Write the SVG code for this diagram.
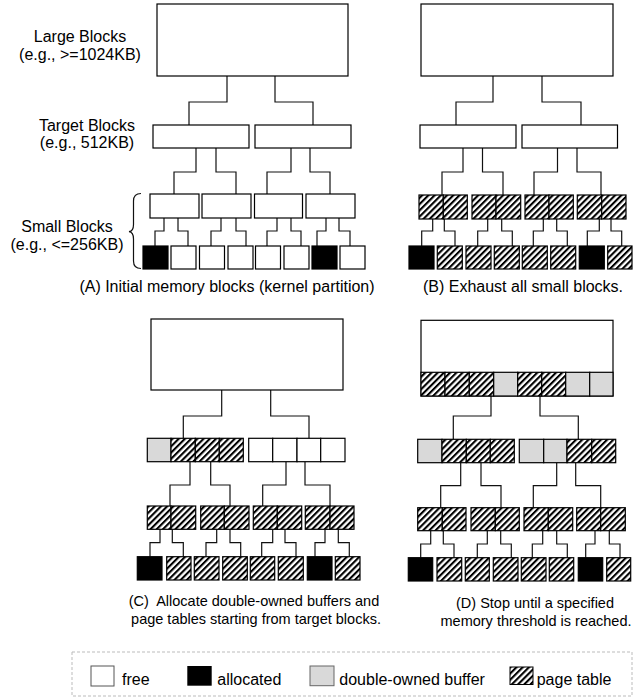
<svg xmlns="http://www.w3.org/2000/svg" width="644" height="698" viewBox="0 0 644 698">
<defs>
<pattern id="hatch" width="4.4" height="4.4" patternUnits="userSpaceOnUse" patternTransform="rotate(45)">
<rect width="4.4" height="4.4" fill="#fff"/>
<rect width="2.1" height="4.4" fill="#000"/>
</pattern>
<style>
.b{fill:#fff;stroke:#000;stroke-width:1.2}
.k{fill:#000;stroke:#000;stroke-width:1.2}
.g{fill:#d9d9d9;stroke:#000;stroke-width:1.2}
.h{fill:url(#hatch);stroke:#000;stroke-width:1.2}
.c{fill:none;stroke:#111;stroke-width:1.2}
.t{font-family:"Liberation Sans",Arial,sans-serif;font-size:16px;fill:#000}
.s{font-size:14.5px}
</style>
</defs>

<!-- labels -->
<g id="labels">
<text class="t" x="80" y="42" text-anchor="middle">Large Blocks</text>
<text class="t" x="80" y="60" text-anchor="middle">(e.g., &gt;=1024KB)</text>
<text class="t" x="87" y="131" text-anchor="middle">Target Blocks</text>
<text class="t" x="87" y="148" text-anchor="middle">(e.g., 512KB)</text>
<text class="t" x="67" y="232" text-anchor="middle">Small Blocks</text>
<text class="t" x="67" y="250" text-anchor="middle">(e.g., &lt;=256KB)</text>
<path id="brace" class="c" stroke-width="1" d="M141,193.5 C135.5,193.5 133.5,196 133.5,201 V224.5 C133.5,229.5 131.5,231.5 129,231.7 C131.5,232 133.5,234 133.5,239 V261 C133.5,266 135.5,268.5 141,268.5"/>
<text class="t" x="227" y="292" text-anchor="middle">(A) Initial memory blocks (kernel partition)</text>
<text class="t" x="523" y="292" text-anchor="middle">(B) Exhaust all small blocks.</text>
<text class="t s" x="254" y="606" text-anchor="middle" xml:space="preserve">(C)  Allocate double-owned buffers and</text>
<text class="t s" x="256" y="624" text-anchor="middle">page tables starting from target blocks.</text>
<text class="t s" x="535" y="608" text-anchor="middle">(D) Stop until a specified</text>
<text class="t s" x="536" y="626" text-anchor="middle">memory threshold is reached.</text>
</g>

<!-- connectors -->
<g id="connectors">
<!-- A -->
<path class="c" d="M227,76V102H189V125M275,76V102H313V125"/>
<path class="c" d="M196,148V172H174V194M216,148V172H236V194M291,148V172H267V194M310,148V172H330V194"/>
<path class="c" d="M164,218V231H155V246M178,218V231H188V246M221,218V231H211V246M236,218V231H246V246M277,218V231H267V246M291,218V231H301V246M326,218V231H317V246M339,218V231H350V246"/>
<!-- B -->
<path class="c" d="M493,76V102H456V125M542,76V102H581V125"/>
<path class="c" d="M463,148V172H442V195M482.5,148V172H503V195M557.5,148V172H534V195M577,148V172H601V195"/>
<path class="c" d="M432.7,219V231H421.7V246M444.3,219V231H455V246M487.7,219V231H477.7V246M501.7,219V231H512.3V246M543.3,219V231H533.3V246M556.7,219V231H567.3V246M599.3,219V231H587.3V246M611,219V231H621.7V246"/>
<!-- C -->
<path class="c" d="M221.7,390V416H183.3V438.3M270.7,390V416H309V438.3"/>
<path class="c" d="M190,461.7V485H170V506M210.7,461.7V485H230V506M286,461.7V485H262.7V506M305,461.7V485H330V506"/>
<path class="c" d="M160,529.3V542.7H150V556.7M172.3,529.3V542.7H183.3V556.7M216.7,529.3V542.7H206V556.7M230,529.3V542.7H240.7V556.7M272.7,529.3V542.7H261.7V556.7M285,529.3V542.7H296V556.7M325,529.3V542.7H315V556.7M338.3,529.3V542.7H349.3V556.7"/>
<!-- D -->
<path class="c" d="M491,396V416H453.3V439.3M540,396V416H578.3V439.3"/>
<path class="c" d="M460.7,462.7V485.7H440.7V507.7M481,462.7V485.7H501V507.7M556.7,462.7V485.7H533.3V507.7M575.7,462.7V485.7H600.7V507.7"/>
<path class="c" d="M430.7,530.7V544H420.7V557.7M443.3,530.7V544H454V557.7M487.3,530.7V544H477.3V557.7M500.7,530.7V544H511.3V557.7M542.7,530.7V544H532.3V557.7M556.7,530.7V544H567.3V557.7M595,530.7V544H585.7V557.7M609.3,530.7V544H620V557.7"/>
</g>

<!-- Panel A -->
<g id="A-large"><rect class="b" x="157" y="4" width="191" height="72"/></g>
<g id="A-target-1"><rect class="b" x="153" y="125" width="96" height="23"/></g>
<g id="A-target-2"><rect class="b" x="255" y="125" width="96" height="23"/></g>
<g id="A-small-1"><rect class="b" x="150" y="194" width="49" height="24"/></g>
<g id="A-small-2"><rect class="b" x="202" y="194" width="49" height="24"/></g>
<g id="A-small-3"><rect class="b" x="254.5" y="194" width="48" height="24"/></g>
<g id="A-small-4"><rect class="b" x="306" y="194" width="49" height="24"/></g>
<g id="A-leaf-1"><rect class="k" x="143" y="246" width="25" height="23"/></g>
<g id="A-leaf-2"><rect class="b" x="171" y="246" width="25" height="23"/></g>
<g id="A-leaf-3"><rect class="b" x="199.5" y="246" width="25" height="23"/></g>
<g id="A-leaf-4"><rect class="b" x="228" y="246" width="25" height="23"/></g>
<g id="A-leaf-5"><rect class="b" x="255.5" y="246" width="25" height="23"/></g>
<g id="A-leaf-6"><rect class="b" x="284" y="246" width="25" height="23"/></g>
<g id="A-leaf-7"><rect class="k" x="312" y="246" width="25" height="23"/></g>
<g id="A-leaf-8"><rect class="b" x="340" y="246" width="25" height="23"/></g>

<!-- Panel B -->
<g id="B-large"><rect class="b" x="421" y="4" width="192" height="72"/></g>
<g id="B-target-1"><rect class="b" x="420" y="125" width="96" height="23"/></g>
<g id="B-target-2"><rect class="b" x="522" y="125" width="95.5" height="23"/></g>
<g id="B-small-1"><rect class="h" x="419" y="195" width="24.3" height="24"/><rect class="h" x="443.3" y="195" width="24" height="24"/></g>
<g id="B-small-2"><rect class="h" x="472" y="195" width="24" height="24"/><rect class="h" x="496" y="195" width="24.7" height="24"/></g>
<g id="B-small-3"><rect class="h" x="525" y="195" width="24" height="24"/><rect class="h" x="549" y="195" width="24.3" height="24"/></g>
<g id="B-small-4"><rect class="h" x="577.3" y="195" width="24.4" height="24"/><rect class="h" x="601.7" y="195" width="24.3" height="24"/></g>
<g id="B-leaf-1"><rect class="k" x="409" y="246" width="25" height="23"/></g>
<g id="B-leaf-2"><rect class="h" x="437.3" y="246" width="25" height="23"/></g>
<g id="B-leaf-3"><rect class="h" x="466" y="246" width="25" height="23"/></g>
<g id="B-leaf-4"><rect class="h" x="494.3" y="246" width="25" height="23"/></g>
<g id="B-leaf-5"><rect class="h" x="522.3" y="246" width="25" height="23"/></g>
<g id="B-leaf-6"><rect class="h" x="550.7" y="246" width="25" height="23"/></g>
<g id="B-leaf-7"><rect class="k" x="579.3" y="246" width="25" height="23"/></g>
<g id="B-leaf-8"><rect class="h" x="607.7" y="246" width="24.3" height="23"/></g>

<!-- Panel C -->
<g id="C-large"><rect class="b" x="151" y="319" width="192" height="71"/></g>
<g id="C-target-1">
<rect class="g" x="147.3" y="438.3" width="23.7" height="23.4"/>
<rect class="h" x="171" y="438.3" width="24.3" height="23.4"/>
<rect class="h" x="195.3" y="438.3" width="24" height="23.4"/>
<rect class="h" x="219.3" y="438.3" width="24" height="23.4"/>
</g>
<g id="C-target-2">
<rect class="b" x="248.7" y="438.3" width="24" height="23.4"/>
<rect class="b" x="272.7" y="438.3" width="24.3" height="23.4"/>
<rect class="b" x="297" y="438.3" width="23.7" height="23.4"/>
<rect class="b" x="320.7" y="438.3" width="24.3" height="23.4"/>
</g>
<g id="C-small-1"><rect class="h" x="147.3" y="506" width="23.7" height="23.3"/><rect class="h" x="171" y="506" width="24.7" height="23.3"/></g>
<g id="C-small-2"><rect class="h" x="200.7" y="506" width="23.6" height="23.3"/><rect class="h" x="224.3" y="506" width="24.7" height="23.3"/></g>
<g id="C-small-3"><rect class="h" x="253.3" y="506" width="24" height="23.3"/><rect class="h" x="277.3" y="506" width="24.4" height="23.3"/></g>
<g id="C-small-4"><rect class="h" x="305.3" y="506" width="24.7" height="23.3"/><rect class="h" x="330" y="506" width="24" height="23.3"/></g>
<g id="C-leaf-1"><rect class="k" x="137.3" y="556.7" width="24.7" height="23.3"/></g>
<g id="C-leaf-2"><rect class="h" x="166.7" y="556.7" width="24.3" height="23.3"/></g>
<g id="C-leaf-3"><rect class="h" x="194.3" y="556.7" width="24.7" height="23.3"/></g>
<g id="C-leaf-4"><rect class="h" x="222.7" y="556.7" width="24.6" height="23.3"/></g>
<g id="C-leaf-5"><rect class="h" x="250.3" y="556.7" width="24.4" height="23.3"/></g>
<g id="C-leaf-6"><rect class="h" x="278.3" y="556.7" width="25" height="23.3"/></g>
<g id="C-leaf-7"><rect class="k" x="307.3" y="556.7" width="24.7" height="23.3"/></g>
<g id="C-leaf-8"><rect class="h" x="335.3" y="556.7" width="24.7" height="23.3"/></g>

<!-- Panel D -->
<g id="D-large">
<rect class="b" x="421" y="320.3" width="192" height="75.7"/>
<rect class="h" x="421" y="372.3" width="24" height="23.7"/>
<rect class="h" x="445" y="372.3" width="24.3" height="23.7"/>
<rect class="h" x="469.3" y="372.3" width="24.4" height="23.7"/>
<rect class="g" x="493.7" y="372.3" width="24" height="23.7"/>
<rect class="h" x="517.7" y="372.3" width="24" height="23.7"/>
<rect class="h" x="541.7" y="372.3" width="24" height="23.7"/>
<rect class="g" x="565.7" y="372.3" width="24" height="23.7"/>
<rect class="g" x="589.7" y="372.3" width="23.3" height="23.7"/>
</g>
<g id="D-target-1">
<rect class="g" x="417.7" y="439.3" width="24.3" height="23.4"/>
<rect class="h" x="442" y="439.3" width="24.3" height="23.4"/>
<rect class="h" x="466.3" y="439.3" width="24" height="23.4"/>
<rect class="h" x="490.3" y="439.3" width="24" height="23.4"/>
</g>
<g id="D-target-2">
<rect class="g" x="519.3" y="439.3" width="24.4" height="23.4"/>
<rect class="g" x="543.7" y="439.3" width="23.3" height="23.4"/>
<rect class="h" x="567" y="439.3" width="24.7" height="23.4"/>
<rect class="h" x="591.7" y="439.3" width="24" height="23.4"/>
</g>
<g id="D-small-1"><rect class="h" x="417.7" y="507.7" width="24.6" height="23"/><rect class="h" x="442.3" y="507.7" width="23.7" height="23"/></g>
<g id="D-small-2"><rect class="h" x="471" y="507.7" width="24.3" height="23"/><rect class="h" x="495.3" y="507.7" width="24" height="23"/></g>
<g id="D-small-3"><rect class="h" x="524" y="507.7" width="24.3" height="23"/><rect class="h" x="548.3" y="507.7" width="24.4" height="23"/></g>
<g id="D-small-4"><rect class="h" x="576.7" y="507.7" width="24" height="23"/><rect class="h" x="600.7" y="507.7" width="24.6" height="23"/></g>
<g id="D-leaf-1"><rect class="k" x="408.3" y="557.7" width="24.4" height="23.3"/></g>
<g id="D-leaf-2"><rect class="h" x="437" y="557.7" width="24.7" height="23.3"/></g>
<g id="D-leaf-3"><rect class="h" x="465.3" y="557.7" width="24" height="23.3"/></g>
<g id="D-leaf-4"><rect class="h" x="493.3" y="557.7" width="24.7" height="23.3"/></g>
<g id="D-leaf-5"><rect class="h" x="521.3" y="557.7" width="24.7" height="23.3"/></g>
<g id="D-leaf-6"><rect class="h" x="549.3" y="557.7" width="24.4" height="23.3"/></g>
<g id="D-leaf-7"><rect class="k" x="578.3" y="557.7" width="24.4" height="23.3"/></g>
<g id="D-leaf-8"><rect class="h" x="606.7" y="557.7" width="24" height="23.3"/></g>

<!-- Legend -->
<g id="legend">
<rect x="72" y="652" width="560" height="44" fill="#fff" stroke="#bbb" stroke-width="1" stroke-dasharray="3,2"/>
<rect x="91" y="666" width="23" height="20" fill="#fff" stroke="#555" stroke-width="1"/>
<text class="t" x="122" y="685">free</text>
<rect x="187.3" y="666" width="24.4" height="19.7" fill="#000"/>
<text class="t" x="217.3" y="685">allocated</text>
<rect x="310" y="666" width="24" height="19.7" fill="#d9d9d9" stroke="#666" stroke-width="1"/>
<text class="t" x="339.3" y="685">double-owned buffer</text>
<rect x="510" y="667" width="23" height="17.5" fill="url(#hatch)" stroke="#000" stroke-width="1"/>
<text class="t" x="536.7" y="685">page table</text>
</g>
</svg>
